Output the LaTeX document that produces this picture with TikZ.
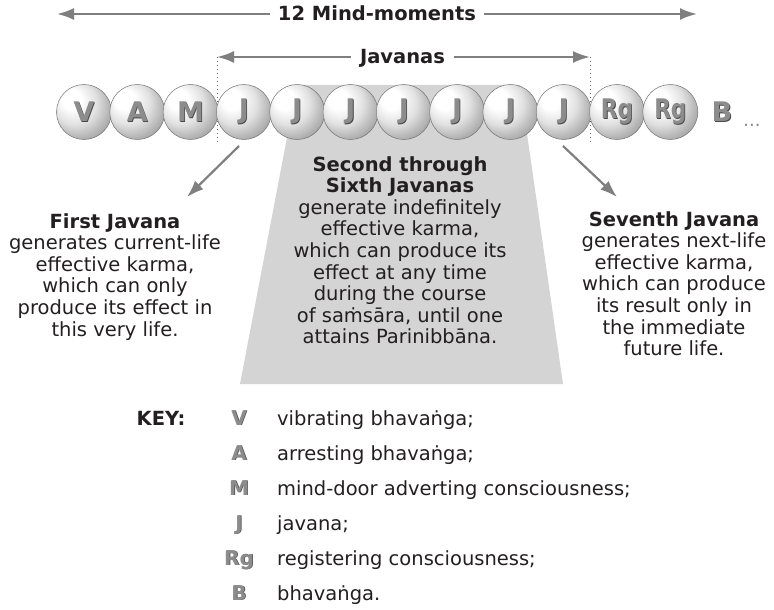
\documentclass[tikz,border=0pt]{standalone}
\usepackage{fontspec}
\setmainfont{DejaVu Sans}
\usepackage{graphicx}
\usetikzlibrary{arrows.meta}
\definecolor{arrgray}{HTML}{7F7F7F}
\definecolor{trapgray}{HTML}{D4D4D4}
\definecolor{txtc}{HTML}{231F20}
\definecolor{letc}{HTML}{8C8C8C}
\definecolor{letdc}{HTML}{4A4A4A}
\definecolor{dotc}{HTML}{8A8A8A}
\pgfdeclareradialshading{sphshade}{\pgfpoint{-14bp}{14bp}}{color(0bp)=(white); color(9bp)=(white); color(20bp)=(black!12); color(32bp)=(black!35); color(43bp)=(black!60); color(50bp)=(black!75)}
\newcommand\embos[1]{\leavevmode\rlap{\kern0.8pt\raisebox{-0.8pt}{\textcolor{letdc}{#1}}}\textcolor{letc}{#1}}
\tikzset{
  garrow/.style={draw=arrgray, line width=2.2pt, -{Latex[length=17pt,width=12pt]}},
  sph/.style={circle, minimum size=55pt, inner sep=0pt, shading=sphshade, draw=black!55, line width=0.5pt, font=\fontsize{27}{27}\selectfont\bfseries},
  bigletter/.style={inner sep=0pt, font=\fontsize{27}{27}\selectfont\bfseries},
  toplbl/.style={text=txtc, font=\fontsize{19.5}{21.6}\selectfont\bfseries, inner xsep=8pt, inner ysep=0pt, anchor=base},
  lbl/.style={text=txtc, font=\fontsize{19.5}{21.6}\selectfont, align=center, inner sep=0pt, anchor=north},
  keytxt/.style={text=txtc, font=\fontsize{19.5}{21.6}\selectfont, inner sep=0pt, anchor=base west},
  keylet/.style={inner sep=0pt, font=\fontsize{20}{20}\selectfont\bfseries, anchor=base},
  dotline/.style={draw=black!60, line width=1pt, dash pattern=on 1pt off 3pt},
  trapfill/.style={fill=trapgray, draw=none}
}
\begin{document}
\begin{tikzpicture}[x=1pt,y=-1pt]
\useasboundingbox (0,0) rectangle (774,610);
% trapezoid
\fill[trapfill] (297,85) -- (520,85) -- (563,384) -- (240,384) -- cycle;
% top arrows
\node[toplbl] (mm) at (377,21) {12 Mind-moments};
\coordinate (mmL) at (57,14);
\coordinate (mmR) at (697,14);
\draw[garrow] (mm.west |- mmL) -- (mmL);
\draw[garrow] (mm.east |- mmR) -- (mmR);
\node[toplbl, inner xsep=9pt] (jv) at (402.5,64) {Javanas};
\coordinate (jvL) at (217,57);
\coordinate (jvR) at (590,57);
\draw[garrow] (jv.west |- jvL) -- (jvL);
\draw[garrow] (jv.east |- jvR) -- (jvR);
% dotted lines
\coordinate (dL) at (217,143);
\coordinate (dR) at (590,143);
\draw[dotline] (jvL) -- (dL);
\draw[dotline] (jvR) -- (dR);
% spheres
\node[sph] (s1) at (84,112) {\embos{V}};
\node[sph] (s2) at (137.3,112) {\embos{A}};
\node[sph] (s3) at (190.6,112) {\embos{M}};
\node[sph] (s4) at (243.9,112) {\embos{J}};
\node[sph] (s5) at (297.2,112) {\embos{J}};
\node[sph] (s6) at (350.5,112) {\embos{J}};
\node[sph] (s7) at (403.8,112) {\embos{J}};
\node[sph] (s8) at (457.1,112) {\embos{J}};
\node[sph] (s9) at (510.4,112) {\embos{J}};
\node[sph] (s10) at (563.7,112) {\embos{J}};
\node[sph] (s11) at (617,112) {\embos{\scalebox{0.8}[1]{Rg}}};
\node[sph] (s12) at (670.3,112) {\embos{\scalebox{0.8}[1]{Rg}}};
\node[bigletter] (b) at (722,112) {\embos{B}};
\node[inner sep=0pt, text=dotc, font=\fontsize{18}{18}\selectfont, anchor=base] (dots) at (752,126) {...};
% diagonal arrows
\coordinate (a1s) at (239,146);
\coordinate (a1e) at (187,197);
\coordinate (a2s) at (563,146);
\coordinate (a2e) at (617,197);
\draw[garrow] (a1s) -- (a1e);
\draw[garrow] (a2s) -- (a2e);
% text blocks
\node[lbl] (first) at (115,213) {\textbf{First Javana}\\generates current-life\\effective karma,\\which can only\\produce its effect in\\this very life.};
\node[lbl] (mid) at (400,156) {\textbf{Second through}\\\textbf{Sixth Javanas}\\generate indefinitely\\effective karma,\\which can produce its\\effect at any time\\during the course\\of saṁsāra, until one\\attains Parinibbāna.};
\node[lbl] (seventh) at (674,211) {\textbf{Seventh Javana}\\generates next-life\\effective karma,\\which can produce\\its result only in\\the immediate\\future life.};
% key
\node[text=txtc, font=\fontsize{19.5}{21.6}\selectfont\bfseries, inner sep=0pt, anchor=base] (key) at (161,425) {KEY:};
\node[keylet] (k1) at (239,425) {\embos{V}};
\node[keylet] (k2) at (239,460) {\embos{A}};
\node[keylet] (k3) at (239,495) {\embos{M}};
\node[keylet] (k4) at (239,530) {\embos{J}};
\node[keylet] (k5) at (239,565) {\embos{Rg}};
\node[keylet] (k6) at (239,600) {\embos{B}};
\node[keytxt] (t1) at (277,425) {vibrating bhavaṅga;};
\node[keytxt] (t2) at (277,460) {arresting bhavaṅga;};
\node[keytxt] (t3) at (277,495) {mind-door adverting consciousness;};
\node[keytxt] (t4) at (277,530) {javana;};
\node[keytxt] (t5) at (277,565) {registering consciousness;};
\node[keytxt] (t6) at (277,600) {bhavaṅga.};
\end{tikzpicture}
\end{document}
